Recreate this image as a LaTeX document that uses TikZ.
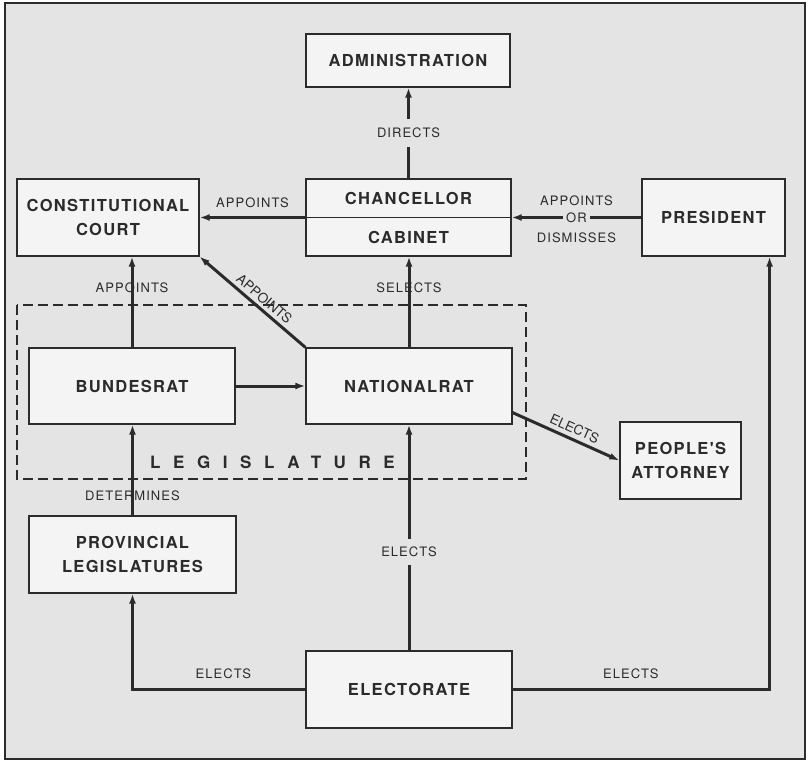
\documentclass[tikz,border=0pt]{standalone}
\usepackage{fontspec}
\setmainfont{TeX Gyre Heros}
\newfontfamily\boxff[LetterSpace=8]{TeX Gyre Heros}
\newfontfamily\labff[LetterSpace=8]{TeX Gyre Heros}
\newfontfamily\slopeff{TeX Gyre Heros}
\newfontfamily\legff[LetterSpace=74]{TeX Gyre Heros}
\usetikzlibrary{arrows.meta}
\definecolor{framefill}{HTML}{E4E4E4}
\definecolor{boxfill}{HTML}{F4F4F4}
\definecolor{ink}{HTML}{2B2B2B}
\begin{document}
\begin{tikzpicture}[x=1bp,y=-1bp,
  box/.style={draw=ink, fill=boxfill, line width=1.2bp, inner sep=0pt, align=center,
    font=\boxff\bfseries\fontsize{16.5bp}{24bp}\selectfont, text=ink},
  boxtxt/.style={inner sep=0pt, align=center, font=\boxff\bfseries\fontsize{16.5bp}{24bp}\selectfont, text=ink},
  arr/.style={draw=ink, line width=3bp, -{Latex[length=10bp,width=7bp]}},
  arrrev/.style={draw=ink, line width=3bp, {Latex[length=10bp,width=7bp]}-},
  lab/.style={font=\labff\fontsize{13bp}{18.5bp}\selectfont, text=ink, inner sep=1bp},
  slopelab/.style={font=\slopeff\fontsize{13.5bp}{16bp}\selectfont, text=ink, sloped, above},
  gaplab/.style={lab, fill=framefill}
]
\useasboundingbox (0,0) rectangle (810,761);
\fill[white] (0,0) rectangle (810,761);
\draw[ink, fill=framefill, line width=1.3bp] (5,3) rectangle (805,759);

% legislature dashed frame
\draw[ink, line width=1.5bp, dash pattern=on 10bp off 5bp] (17,305) rectangle (526,479);
\node[anchor=west, inner sep=0pt, text=ink, font=\legff\bfseries\fontsize{17bp}{20bp}\selectfont] (leg) at (150,462) {LEGISLATURE};

% boxes
\node[box, minimum width=204bp, minimum height=53bp] (admin) at (408,60.5) {ADMINISTRATION};
\node[box, minimum width=205bp, minimum height=77bp] (cab) at (408.5,217.5) {};
\draw[ink, line width=0.8bp] (cab.west) -- (cab.east);
\node[boxtxt] (chan) at (408.5,198.5) {CHANCELLOR};
\node[boxtxt] (cabt) at (408.5,237) {CABINET};
\node[box, minimum width=182bp, minimum height=77bp] (cc) at (108,217.5) {CONSTITUTIONAL\\COURT};
\node[box, minimum width=143bp, minimum height=77bp] (pres) at (713.5,217.5) {PRESIDENT};
\node[box, minimum width=206bp, minimum height=76bp] (br) at (132,386) {BUNDESRAT};
\node[box, minimum width=206bp, minimum height=76bp] (nr) at (409,386) {NATIONALRAT};
\node[box, minimum width=121bp, minimum height=77bp] (pa) at (680.5,460.5) {PEOPLE'S\\ATTORNEY};
\node[box, minimum width=207bp, minimum height=77bp] (prov) at (132.5,554.5) {PROVINCIAL\\LEGISLATURES};
\node[box, minimum width=206bp, minimum height=77bp] (el) at (409,689.5) {ELECTORATE};

% connectors
\draw[arr] (cab.north) -- (cab.north |- admin.south)
  node[gaplab, pos=0.5, inner ysep=9bp] {DIRECTS};
\draw[arr] (cab.west) -- (cc.east)
  node[lab, midway, yshift=14.5bp] {APPOINTS};
\draw[arr] (pres.west) -- (cab.east)
  node[gaplab, midway, inner xsep=3bp, inner ysep=1bp] {OR}
  node[lab, midway, yshift=17bp] {APPOINTS}
  node[lab, midway, yshift=-20bp] {DISMISSES};
\draw[arr] (br.north) -- (br.north |- cc.south)
  node[lab, pos=0.66] {APPOINTS};
\draw[arrrev] (cc.south east) -- (nr.north west)
  node[slopelab, pos=0.55, inner sep=3.5bp] {APPOINTS};
\draw[arr] (nr.north) -- (nr.north |- cab.south)
  node[lab, pos=0.66] {SELECTS};
\draw[arr] (br.east) -- (nr.west);
\draw[arr] ([yshift=12bp]nr.south east) -- (pa.west)
  node[slopelab, pos=0.54, inner sep=4bp] {ELECTS};
\draw[arr] (prov.north) -- (prov.north |- br.south)
  node[lab, pos=0.22] {DETERMINES};
\draw[arr] (el.north) -- (el.north |- nr.south)
  node[gaplab, pos=0.436, inner ysep=8bp] {ELECTS};
\draw[arr] (el.west) -| (prov.south)
  node[lab, pos=0.237, yshift=15.5bp] {ELECTS};
\draw[arr] (el.east) -| ([xshift=-16bp]pres.south east)
  node[lab, pos=0.23, yshift=15.5bp] {ELECTS};
\end{tikzpicture}
\end{document}
